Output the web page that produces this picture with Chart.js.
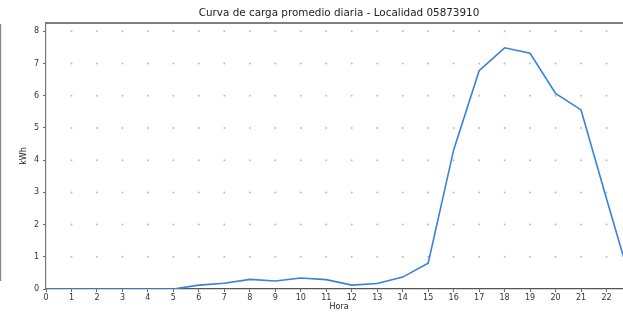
<!DOCTYPE html>
<html>
<head>
<meta charset="utf-8">
<script src="https://cdn.jsdelivr.net/npm/chart.js@4/dist/chart.umd.min.js"></script>
<style>
  html, body { margin: 0; padding: 0; background: #fff; }
  #wrap { position: relative; width: 623px; height: 312px; overflow: hidden; }
  #box { position: absolute; left: 0; top: 0; width: 640px; height: 312px; }
</style>
</head>
<body>
<div id="wrap"><div id="box"><canvas id="curve"></canvas></div></div>
<script>
var horas = [0, 1, 2, 3, 4, 5, 6, 7, 8, 9, 10, 11, 12, 13, 14, 15, 16, 17, 18, 19, 20, 21, 22, 23];
var consumo = [0, 0, 0, 0, 0, 0, 0.12, 0.18, 0.3, 0.25, 0.34, 0.29, 0.12, 0.17, 0.37, 0.8, 4.32, 6.78, 7.49, 7.32, 6.07, 5.56, 2.8, 0.1];
var yTicks = [0, 1, 2, 3, 4, 5, 6, 7, 8];
var titulo = "Curva de carga promedio diaria - Localidad 05873910";

var fontFam = "'DejaVu Sans', sans-serif";

// dotted grid (dots only at intersections), frame lines and title
var decor = {
    id: "decor",
    beforeDatasetsDraw: function (c) {
        var x = c.scales.x, y = c.scales.y, ctx = c.ctx;
        ctx.save();
        ctx.fillStyle = "#bdbdbd";
        for (var i = 1; i < horas.length; i++) {
            for (var j = 1; j < yTicks.length; j++) {
                ctx.beginPath();
                ctx.arc(x.getPixelForValue(horas[i]), y.getPixelForValue(yTicks[j]), 1, 0, Math.PI * 2);
                ctx.fill();
            }
        }
        ctx.restore();
    },
    afterDraw: function (c) {
        var x = c.scales.x, ctx = c.ctx, a = c.chartArea;
        ctx.save();
        ctx.strokeStyle = "#555";
        ctx.lineWidth = 1.3;
        ctx.beginPath();
        ctx.moveTo(a.left, a.top);
        ctx.lineTo(a.right + 20, a.top);
        ctx.stroke();
        ctx.strokeStyle = "#8a8a8a";
        ctx.lineWidth = 1.2;
        ctx.beginPath();
        ctx.moveTo(0.6, a.top + 1);
        ctx.lineTo(0.6, 281);
        ctx.stroke();
        ctx.fillStyle = "#222";
        ctx.font = "10.4px " + fontFam;
        ctx.textAlign = "center";
        ctx.textBaseline = "middle";
        ctx.fillText(titulo, (a.left + x.getPixelForValue(23)) / 2, 13);
        ctx.restore();
    }
};

new Chart(document.getElementById("curve").getContext("2d"), {
    type: "line",
    data: {
        datasets: [{
            data: horas.map(function (h, i) { return { x: h, y: consumo[i] }; }),
            borderColor: "#3b80dc",
            borderWidth: 1.6,
            pointRadius: 0,
            tension: 0,
            fill: false
        }]
    },
    options: {
        responsive: true,
        maintainAspectRatio: false,
        animation: false,
        layout: { padding: { left: 19, top: 23, right: 8, bottom: 0 } },
        plugins: { legend: { display: false }, tooltip: { enabled: false }, title: { display: false } },
        scales: {
            x: {
                type: "linear",
                min: 0,
                max: 23,
                afterBuildTicks: function (s) { s.ticks = horas.map(function (h) { return { value: h }; }); },
                afterFit: function (s) { s.height = 23; },
                grid: { display: true, drawOnChartArea: false, drawTicks: true, tickLength: 3, color: "#666" },
                border: { display: true, color: "#555", width: 1.3 },
                ticks: { color: "#333", font: { family: fontFam, size: 8 }, padding: 1, maxRotation: 0, autoSkip: false },
                title: { display: true, text: "Hora", color: "#222", font: { family: fontFam, size: 8 }, padding: { top: 0, bottom: 0 } }
            },
            y: {
                min: 0,
                max: 8.26,
                afterBuildTicks: function (s) { s.ticks = yTicks.map(function (v) { return { value: v }; }); },
                afterFit: function (s) { s.width = 27; },
                grid: { display: true, drawOnChartArea: false, drawTicks: true, tickLength: 3, color: "#666" },
                border: { display: true, color: "#777", width: 1.2 },
                ticks: { color: "#333", font: { family: fontFam, size: 8 }, padding: 4 },
                title: { display: true, text: "kWh", color: "#222", font: { family: fontFam, size: 8 }, padding: { top: 0, bottom: 2 } }
            }
        }
    },
    plugins: [decor]
});
</script>
</body>
</html>
